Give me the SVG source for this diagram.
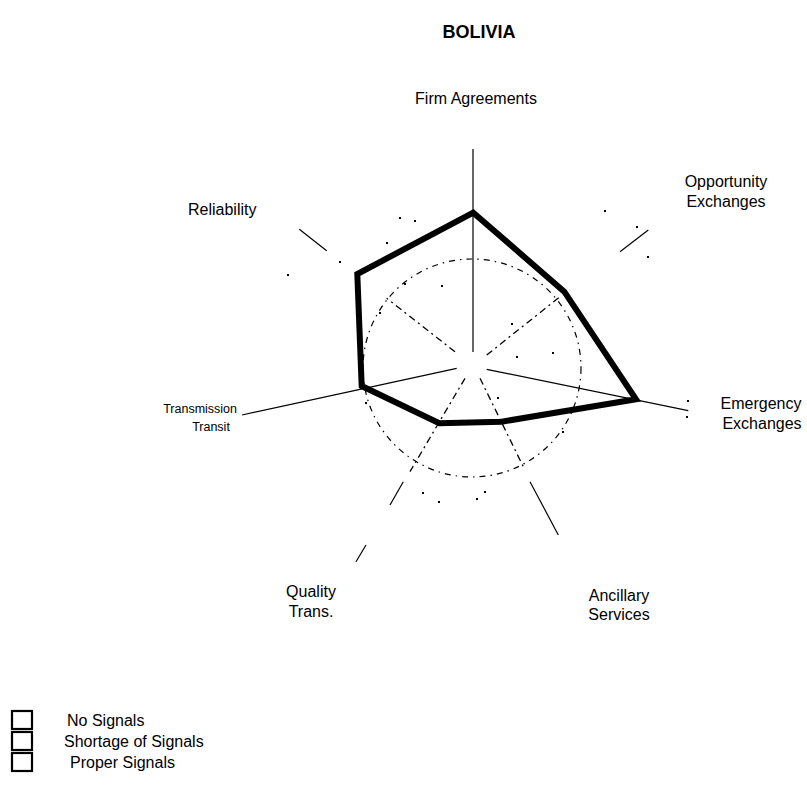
<svg xmlns="http://www.w3.org/2000/svg" width="807" height="792" viewBox="0 0 807 792">
<style>
text{font-family:"Liberation Sans",Arial,sans-serif;font-size:16px;fill:#000}
.title{font-weight:bold;font-size:18px}
.small{font-size:12.5px}
.axis{stroke:#000;stroke-width:1.2;fill:none}
.dash{stroke:#000;stroke-width:1.3;fill:none;stroke-dasharray:7 4 2 4}
.ring{stroke:#000;stroke-width:1.2;fill:none;stroke-dasharray:6 5 1.5 5}
.dot{fill:#000}
.poly{stroke:#000;stroke-width:6;fill:none;stroke-linejoin:miter}
.box{stroke:#000;stroke-width:2.2;fill:#fff}
</style>
<defs><rect id="d" width="2" height="2" class="dot"/></defs>
<rect width="807" height="792" fill="#fff"/>
<text class="title" x="479" y="38" text-anchor="middle">BOLIVIA</text>

<g id="grid">
<circle class="ring" cx="472" cy="368" r="109"/>
<use href="#d" x="399" y="217"/><use href="#d" x="414" y="220"/><use href="#d" x="386" y="242"/>
<use href="#d" x="339" y="261"/><use href="#d" x="287" y="274"/><use href="#d" x="604" y="210"/>
<use href="#d" x="636" y="226"/><use href="#d" x="647" y="256"/><use href="#d" x="687" y="400"/>
<use href="#d" x="686" y="416"/><use href="#d" x="422" y="492"/><use href="#d" x="438" y="501"/>
<use href="#d" x="476" y="498"/><use href="#d" x="484" y="491"/><use href="#d" x="497" y="397"/>
<use href="#d" x="562" y="431"/><use href="#d" x="365" y="402"/>
<use href="#d" x="404" y="283"/><use href="#d" x="441" y="285"/><use href="#d" x="379" y="312"/>
<use href="#d" x="511" y="323"/><use href="#d" x="516" y="356"/><use href="#d" x="552" y="352"/>
</g>

<g id="connectors">
<line class="axis" x1="473" y1="149" x2="473" y2="352"/>
<line class="dash" x1="486.7" y1="355" x2="560" y2="296.7"/>
<line class="axis" x1="620" y1="251.7" x2="648.3" y2="230"/>
<line class="axis" x1="486.7" y1="369.3" x2="688.3" y2="410.7"/>
<line class="axis" x1="456.7" y1="368.3" x2="242" y2="415"/>
<line class="dash" x1="480" y1="378.3" x2="523.3" y2="466.7"/>
<line class="axis" x1="530" y1="481.7" x2="558.3" y2="535"/>
<line class="dash" x1="465" y1="378.3" x2="410" y2="471.7"/>
<line class="axis" x1="403.3" y1="481.7" x2="390" y2="505"/>
<line class="axis" x1="366" y1="545" x2="356" y2="561.7"/>
<line class="dash" x1="455" y1="351.7" x2="386.7" y2="298.3"/>
<line class="axis" x1="326.7" y1="250.7" x2="299.3" y2="229.3"/>
</g>

<g id="profile">
<polygon class="poly" points="473.3,212.7 564.3,291.7 636,399.3 501.7,421.7 439.3,423.3 361.7,386 357.3,274"/>
</g>

<g id="label-firm"><text x="476" y="104" text-anchor="middle">Firm Agreements</text></g>
<g id="label-opportunity"><text x="726" y="187" text-anchor="middle">Opportunity</text><text x="726" y="207" text-anchor="middle">Exchanges</text></g>
<g id="label-emergency"><text x="761" y="409" text-anchor="middle">Emergency</text><text x="762" y="429" text-anchor="middle">Exchanges</text></g>
<g id="label-ancillary"><text x="619" y="601" text-anchor="middle">Ancillary</text><text x="619" y="620" text-anchor="middle">Services</text></g>
<g id="label-quality"><text x="311" y="597" text-anchor="middle">Quality</text><text x="311" y="617" text-anchor="middle">Trans.</text></g>
<g id="label-transmission"><text class="small" x="237" y="413" text-anchor="end">Transmission</text><text class="small" x="211" y="431" text-anchor="middle">Transit</text></g>
<g id="label-reliability"><text x="188" y="215">Reliability</text></g>

<g id="legend">
<g id="legend-none"><rect class="box" x="12" y="711" width="20" height="18"/><text x="67" y="726">No Signals</text></g>
<g id="legend-shortage"><rect class="box" x="12" y="732" width="20" height="18"/><text x="64" y="747">Shortage of Signals</text></g>
<g id="legend-proper"><rect class="box" x="12" y="753" width="20" height="18"/><text x="70" y="768">Proper Signals</text></g>
</g>
</svg>
